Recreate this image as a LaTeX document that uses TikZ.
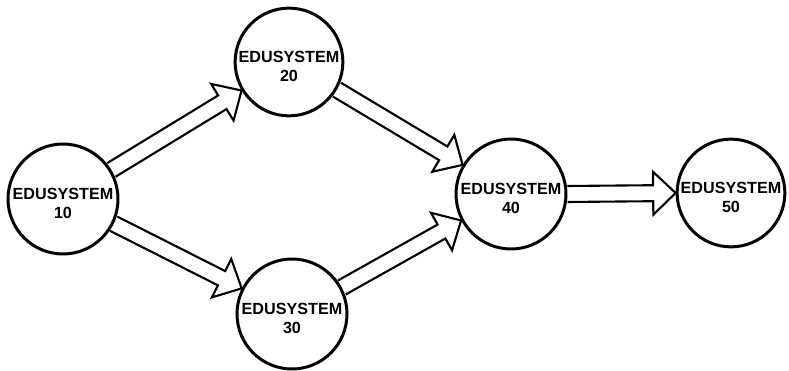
\documentclass[tikz,border=0pt]{standalone}
\usepackage{fontspec}
\setsansfont{Liberation Sans}
\usepackage{tikz}
\usetikzlibrary{calc}

% hollow block arrow from circle #1 to circle #2
\newcommand{\flowto}[2]{%
  \path let \p1=($(#2)-(#1)$), \n1={atan2(\y1,\x1)}, \n2={\n1+180} in
    (#1.\n1) coordinate (#1-#2-s) (#2.\n2) coordinate (#1-#2-t);
  \draw[flowline]
    ($(#1-#2-s)!0.16cm!90:(#1-#2-t)$)
    -- ($(#1-#2-t)!0.45cm!(#1-#2-s)!0.16cm!90:(#1-#2-t)$)
    -- ($(#1-#2-t)!0.45cm!(#1-#2-s)!0.43cm!90:(#1-#2-t)$)
    -- (#1-#2-t)
    -- ($(#1-#2-t)!0.45cm!(#1-#2-s)!0.43cm!-90:(#1-#2-t)$)
    -- ($(#1-#2-t)!0.45cm!(#1-#2-s)!0.16cm!-90:(#1-#2-t)$)
    -- ($(#1-#2-s)!0.16cm!-90:(#1-#2-t)$);
}

\begin{document}
\begin{tikzpicture}[x=0.02cm,y=-0.02cm]
	\tikzstyle{sys} = [circle, draw=black, line width=1.7pt, minimum size=2.2cm, inner sep=0pt, align=center, text height=22pt, text depth=0pt, font=\sffamily\bfseries\fontsize{9.2}{10.5}\selectfont]
	\tikzstyle{flowline} = [draw=black, line width=1.2pt, line join=miter]
	\useasboundingbox (0,0) rectangle (789,371);
		\node[sys] (s10) at (63,199)  {EDUSYSTEM\\10};
		\node[sys, minimum size=2.12cm] (s20) at (289,62)  {EDUSYSTEM\\20};
		\node[sys] (s30) at (292,314) {EDUSYSTEM\\30};
		\node[sys] (s40) at (511,194) {EDUSYSTEM\\40};
		\node[sys, minimum size=2.08cm] (s50) at (731,193) {EDUSYSTEM\\50};
	\flowto{s10}{s20}
	\flowto{s10}{s30}
	\flowto{s20}{s40}
	\flowto{s30}{s40}
	\flowto{s40}{s50}
\end{tikzpicture}
\end{document}
